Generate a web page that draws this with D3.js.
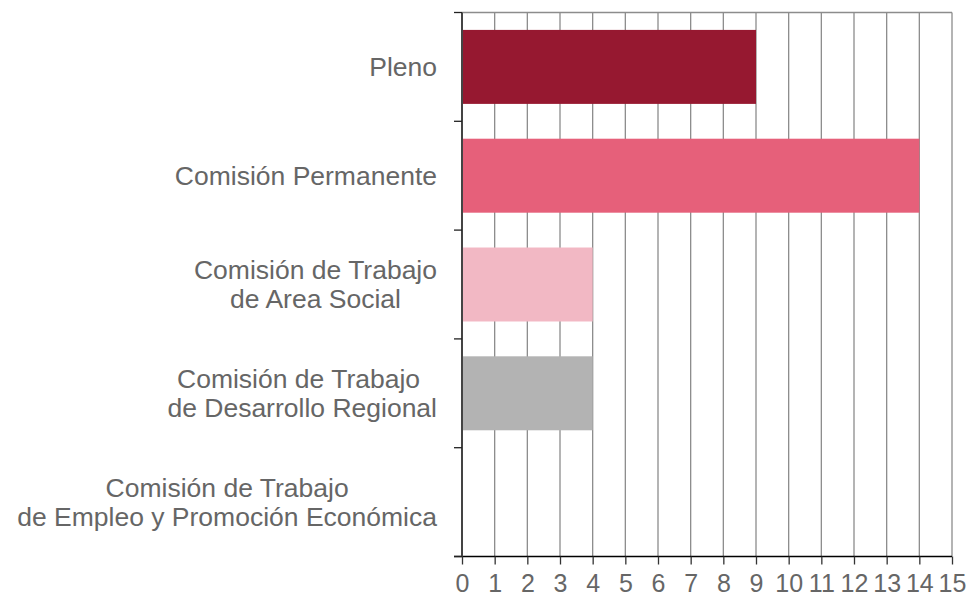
<!DOCTYPE html>
<html><head><meta charset="utf-8">
<script src="https://cdn.jsdelivr.net/npm/d3@7"></script>
<style>body{margin:0;background:#fff}svg{display:block}</style>
</head><body>
<svg id="c" width="969" height="598"></svg>
<script>
const categories = [
  ["Pleno"],
  ["Comisión Permanente"],
  ["Comisión de Trabajo", "de Area Social"],
  ["Comisión de Trabajo ", "de Desarrollo Regional"],
  ["Comisión de Trabajo", "de Empleo y Promoción Económica"]
];
const values = [9, 14, 4, 4, 0];
const colors = ["#961830", "#E6607A", "#F2B8C4", "#B3B3B3", "#B3B3B3"];
const xTicks = [0,1,2,3,4,5,6,7,8,9,10,11,12,13,14,15];

const FONT = "'Liberation Sans', Arial, sans-serif";
const svg = d3.select("#c");
const L = 462, R = 952, T = 12.5, B = 556.5;
const x = d3.scaleLinear().domain([0, 15]).range([L, R]);
const idx = categories.map((d, i) => i);
const y = d3.scaleBand().domain(idx).range([T, B]).paddingInner(0.32).paddingOuter(0.16);
const yb = d3.scaleBand().domain(idx).range([T, B]);

// vertical gridlines
svg.append("g").selectAll("line").data(xTicks.slice(1)).join("line")
  .attr("x1", d => x(d)).attr("x2", d => x(d)).attr("y1", T).attr("y2", B)
  .attr("stroke", "#8c8c8c").attr("stroke-width", 1.3);
// top line
svg.append("line").attr("x1", L).attr("x2", R).attr("y1", T).attr("y2", T)
  .attr("stroke", "#8c8c8c").attr("stroke-width", 1.3);

// bars
svg.append("g").selectAll("rect").data(values).join("rect")
  .attr("x", x(0)).attr("y", (d, i) => y(i))
  .attr("width", d => x(d) - x(0)).attr("height", y.bandwidth())
  .attr("fill", (d, i) => colors[i]);

// x axis
const xAxis = d3.axisBottom(x).tickValues(xTicks).tickSize(8).tickFormat(d3.format("d"));
const gx = svg.append("g").attr("transform", `translate(0,${B})`).call(xAxis);
gx.select(".domain").attr("d", `M${L - 8},0H${R}`).attr("stroke", "#000").attr("stroke-width", 1.3);
gx.selectAll(".tick line").attr("stroke", "#333").attr("stroke-width", 1.3);
gx.selectAll(".tick text").attr("fill", "#666").style("font-family", FONT).style("font-size", "25px")
  .attr("y", 35).attr("dy", 0);

// y axis line + ticks at band boundaries
const bounds = idx.map(i => yb(i)).concat([B]);
svg.append("line").attr("x1", L).attr("x2", L).attr("y1", T).attr("y2", B)
  .attr("stroke", "#444").attr("stroke-width", 2);
svg.append("g").selectAll("line").data(bounds).join("line")
  .attr("x1", L - 8).attr("x2", L).attr("y1", d => d).attr("y2", d => d)
  .attr("stroke", "#222").attr("stroke-width", 1.3);

// category labels
const labelRight = 437, lh = 29;
categories.forEach((lines, i) => {
  const cy = yb(i) + yb.bandwidth() / 2;
  const t = svg.append("text").attr("fill", "#666")
    .style("font-family", FONT).style("font-size", "26.5px")
    .attr("text-anchor", "middle").attr("xml:space", "preserve");
  const spans = lines.map((s, k) => t.append("tspan").text(s)
    .attr("y", cy + (k - (lines.length - 1) / 2) * lh).attr("dy", "0.35em"));
  const w = d3.max(spans, s => s.node().getComputedTextLength());
  spans.forEach(s => s.attr("x", labelRight - w / 2));
});
</script>
</body></html>
